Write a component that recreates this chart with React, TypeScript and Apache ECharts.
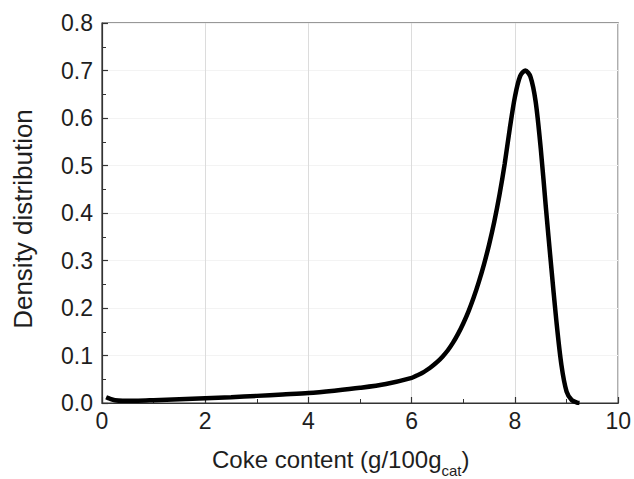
import React, { useEffect, useRef } from "react";
import * as echarts from "echarts";

// Coke content (g/100g_cat) and its density distribution
const cokeContent = [
  0.08, 0.15, 0.25, 0.4, 0.7, 1.0, 1.5, 2.0, 2.5, 3.0, 3.5, 4.0, 4.5, 5.0, 5.5, 6.0,
  6.1, 6.2, 6.3, 6.4, 6.5, 6.6, 6.7, 6.8, 6.9, 7.0, 7.1, 7.2, 7.3, 7.4, 7.5, 7.6,
  7.7, 7.8, 7.9, 8.0, 8.1, 8.2, 8.3, 8.4, 8.5, 8.6, 8.7, 8.8, 8.9, 9.0, 9.1, 9.2, 9.25,
];
const density = [
  0.012, 0.009, 0.006, 0.005, 0.005, 0.006, 0.008, 0.01, 0.012, 0.015, 0.018, 0.021,
  0.026, 0.032, 0.04, 0.053, 0.058, 0.063, 0.07, 0.078, 0.087, 0.098, 0.111, 0.127,
  0.146, 0.168, 0.193, 0.222, 0.255, 0.292, 0.334, 0.382, 0.438, 0.503, 0.578, 0.645,
  0.688, 0.7, 0.687, 0.635, 0.535, 0.41, 0.29, 0.175, 0.08, 0.024, 0.006, 0.001, 0.0,
];

const xTicks = [0, 2, 4, 6, 8, 10];
const yTicks = [0.0, 0.1, 0.2, 0.3, 0.4, 0.5, 0.6, 0.7, 0.8];

// x-axis title pieces: main text, subscript, closing bracket
const xTitleMain = "Coke content (g/100g";
const xTitleSub = "cat";
const xTitleEnd = ")";
const yTitle = "Density distribution";

const FONT = "Liberation Sans, Arial, Helvetica, sans-serif";
const TEXT = "#1e1e1e";
const AXIS = "#333";
const TITLE_SIZE = 24;
const SUB_SIZE = 15;

function measure(text: string, size: number): number {
  const ctx = document.createElement("canvas").getContext("2d");
  if (!ctx) return text.length * size * 0.5;
  ctx.font = `${size}px ${FONT}`;
  return ctx.measureText(text).width;
}

export default function App() {
  const ref = useRef<HTMLDivElement>(null);

  useEffect(() => {
    if (!ref.current) return;
    const chart = echarts.init(ref.current, null, { renderer: "svg" });
    const points = cokeContent.map((x, i) => [x, density[i]]);

    const titleX = 212;
    const titleY = 459;
    const wMain = measure(xTitleMain, TITLE_SIZE);
    const wSub = measure(xTitleSub, SUB_SIZE);

    chart.setOption({
      animation: false,
      backgroundColor: "#fff",
      grid: {
        left: 102,
        right: 14,
        top: 23,
        bottom: 76,
        show: true,
        borderColor: AXIS,
        borderWidth: 1.2,
        backgroundColor: "transparent",
      },
      xAxis: {
        type: "value",
        min: xTicks[0],
        max: xTicks[xTicks.length - 1],
        interval: 2,
        axisLine: { show: true, lineStyle: { color: AXIS, width: 1.2 } },
        axisTick: { show: true, inside: true, length: 6, lineStyle: { color: AXIS, width: 1.2 } },
        minorTick: { show: true, splitNumber: 2, length: 4, lineStyle: { color: AXIS, width: 1 } },
        splitLine: { show: true, lineStyle: { color: "#dcdcdc", width: 1 } },
        axisLabel: {
          color: TEXT,
          fontFamily: FONT,
          fontSize: 23,
          margin: 6,
          formatter: (v: number) => (xTicks.includes(v) ? String(v) : ""),
        },
      },
      yAxis: {
        type: "value",
        min: yTicks[0],
        max: yTicks[yTicks.length - 1],
        interval: 0.1,
        axisLine: { show: true, lineStyle: { color: AXIS, width: 1.2 } },
        axisTick: { show: true, inside: true, length: 6, lineStyle: { color: AXIS, width: 1.2 } },
        minorTick: { show: true, splitNumber: 2, length: 4, lineStyle: { color: AXIS, width: 1 } },
        splitLine: { show: true, lineStyle: { color: "#f3f3f3", width: 1 } },
        axisLabel: {
          color: TEXT,
          fontFamily: FONT,
          fontSize: 23,
          margin: 9,
          formatter: (v: number) => v.toFixed(1),
        },
      },
      graphic: [
        {
          type: "text",
          x: titleX,
          y: titleY,
          style: {
            text: xTitleMain,
            fontFamily: FONT,
            fontSize: TITLE_SIZE,
            fill: TEXT,
            align: "left",
            verticalAlign: "middle",
          },
        },
        {
          type: "text",
          x: titleX + wMain,
          y: titleY + 11,
          style: {
            text: xTitleSub,
            fontFamily: FONT,
            fontSize: SUB_SIZE,
            fill: TEXT,
            align: "left",
            verticalAlign: "middle",
          },
        },
        {
          type: "text",
          x: titleX + wMain + wSub,
          y: titleY,
          style: {
            text: xTitleEnd,
            fontFamily: FONT,
            fontSize: TITLE_SIZE,
            fill: TEXT,
            align: "left",
            verticalAlign: "middle",
          },
        },
        {
          type: "text",
          x: 23,
          y: 219,
          rotation: Math.PI / 2,
          style: {
            text: yTitle,
            fontFamily: FONT,
            fontSize: 26,
            fill: TEXT,
            align: "center",
            verticalAlign: "middle",
          },
        },
      ],
      series: [
        {
          type: "line",
          data: points,
          smooth: 0.3,
          showSymbol: false,
          lineStyle: { color: "#000", width: 4.5 },
          z: 5,
        },
      ],
    });

    return () => chart.dispose();
  }, []);

  return (
    <div
      ref={ref}
      style={{ position: "absolute", left: 0, top: 0, width: 634, height: 479 }}
    />
  );
}
